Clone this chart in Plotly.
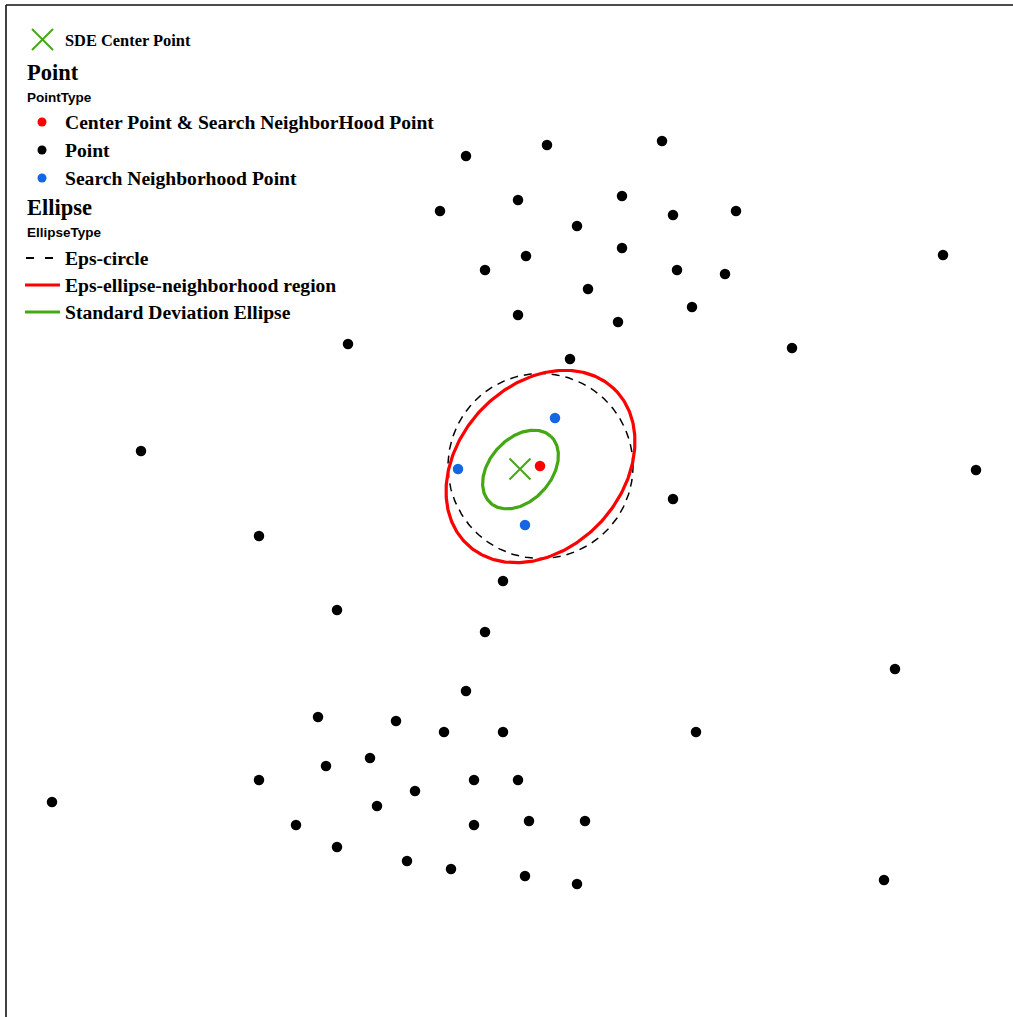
import numpy as np
import plotly.graph_objects as go

W, H = 1013, 1017

# ---------------- data ----------------
point_x = [466, 547, 662, 518, 622, 440, 673, 736, 577, 622, 526, 485, 677, 725, 588, 692, 518, 618, 348, 792, 570,
           943, 141, 976, 259, 673, 503, 337, 485, 895, 466, 696, 52, 884,
           318, 396, 444, 503, 370, 326, 259, 474, 518, 415, 377, 296, 474, 529, 585, 337, 407, 451, 525, 577]
point_y = [861, 872, 876, 817, 821, 806, 802, 806, 791, 769, 761, 747, 747, 743, 728, 710, 702, 695, 673, 669, 658,
           762, 566, 547, 481, 518, 436, 407, 385, 348, 326, 285, 215, 137,
           300, 296, 285, 285, 259, 251, 237, 237, 237, 226, 211, 192, 192, 196, 196, 170, 156, 148, 141, 133]

search_x = [555, 458, 525]
search_y = [599, 548, 492]

center_x = [540]
center_y = [551]

sde_x = [520]
sde_y = [548]

# ellipse parameters: center x, center y, semi-major, semi-minor, angle (deg)
eps_circle = dict(cx=540.5, cy=551.0, a=92.5, b=92.5, angle=0.0)
eps_ellipse = dict(cx=540.5, cy=550.5, a=107.0, b=82.0, angle=47.0)
sde_ellipse = dict(cx=520.5, cy=547.5, a=45.0, b=31.0, angle=48.0)

RED = "#FF0000"
BLUE = "#1466E3"
GREEN = "#44A814"
BLACK = "#000000"


def ellipse_xy(p, n=361):
    t = np.linspace(0, 2 * np.pi, n)
    th = np.deg2rad(p["angle"])
    x = p["cx"] + p["a"] * np.cos(t) * np.cos(th) - p["b"] * np.sin(t) * np.sin(th)
    y = p["cy"] + p["a"] * np.cos(t) * np.sin(th) + p["b"] * np.sin(t) * np.cos(th)
    return x, y


fig = go.Figure()

cx, cy = ellipse_xy(eps_circle)
fig.add_trace(go.Scatter(x=cx, y=cy, mode="lines", line=dict(color=BLACK, width=1.5, dash="8px,6px"),
                         name="Eps-circle", hoverinfo="skip"))
ex, ey = ellipse_xy(eps_ellipse)
fig.add_trace(go.Scatter(x=ex, y=ey, mode="lines", line=dict(color=RED, width=3.2),
                         name="Eps-ellipse-neighborhood region", hoverinfo="skip"))
gx, gy = ellipse_xy(sde_ellipse)
fig.add_trace(go.Scatter(x=gx, y=gy, mode="lines", line=dict(color=GREEN, width=3.2),
                         name="Standard Deviation Ellipse", hoverinfo="skip"))

fig.add_trace(go.Scatter(x=point_x, y=point_y, mode="markers",
                         marker=dict(color=BLACK, size=10.5, line=dict(width=0)), name="Point"))
fig.add_trace(go.Scatter(x=search_x, y=search_y, mode="markers",
                         marker=dict(color=BLUE, size=10.5, line=dict(width=0)), name="Search Neighborhood Point"))
fig.add_trace(go.Scatter(x=center_x, y=center_y, mode="markers",
                         marker=dict(color=RED, size=10.5, line=dict(width=0)),
                         name="Center Point & Search NeighborHood Point"))
fig.add_trace(go.Scatter(x=sde_x, y=sde_y, mode="markers",
                         marker=dict(symbol="x-thin", color=GREEN, size=21, line=dict(color=GREEN, width=2)),
                         name="SDE Center Point"))


# ---------------- manual legend (pixel layout -> paper) ----------------
def PX(v):
    return v / W


def PY(v):
    return 1 - v / H


shapes = []
annotations = []

# frame (left and top edges visible; right/bottom fall outside the window)
shapes.append(dict(type="line", xref="paper", yref="paper", x0=PX(6), x1=PX(6), y0=PY(1017), y1=PY(5),
                   line=dict(color="#111111", width=1.6)))
shapes.append(dict(type="line", xref="paper", yref="paper", x0=PX(6), x1=1.0, y0=PY(5), y1=PY(5),
                   line=dict(color="#111111", width=1.6)))

SERIF = "Liberation Serif"
SANS = "Liberation Sans"


def label(x, y, text, size, family=SERIF):
    annotations.append(dict(xref="paper", yref="paper", x=PX(x), y=PY(y), xanchor="left", yanchor="middle",
                            text="<b>" + text + "</b>", showarrow=False, borderpad=0,
                            font=dict(family=family, size=size, color=BLACK)))


# SDE center legend key
for (x0, y0, x1, y1) in [(32, 29, 53, 50), (32, 50, 53, 29)]:
    shapes.append(dict(type="line", xref="paper", yref="paper", x0=PX(x0), y0=PY(y0), x1=PX(x1), y1=PY(y1),
                       line=dict(color=GREEN, width=2)))
label(64, 40.5, "SDE Center Point", 16.4)

label(25.5, 72.5, "Point", 22.5)
label(25.5, 98, "PointType", 13.5, SANS)
for yy, col, txt in [(122, RED, "Center Point &amp; Search NeighborHood Point"),
                     (150, BLACK, "Point"),
                     (178, BLUE, "Search Neighborhood Point")]:
    shapes.append(dict(type="circle", xref="paper", yref="paper", x0=PX(37.5), x1=PX(46.5),
                       y0=PY(yy + 4.5), y1=PY(yy - 4.5), fillcolor=col, line=dict(width=0)))
    label(64, yy + 0.5, txt, 19.6)

label(25.5, 207.5, "Ellipse", 22.5)
label(25.5, 233, "EllipseType", 13.5, SANS)
shapes.append(dict(type="line", xref="paper", yref="paper", x0=PX(26), x1=PX(53), y0=PY(258), y1=PY(258),
                   line=dict(color=BLACK, width=2, dash="8px,11px")))
label(64, 258.5, "Eps-circle", 19.6)
shapes.append(dict(type="line", xref="paper", yref="paper", x0=PX(25), x1=PX(60), y0=PY(285), y1=PY(285),
                   line=dict(color=RED, width=3.2)))
label(64, 285.5, "Eps-ellipse-neighborhood region", 19.6)
shapes.append(dict(type="line", xref="paper", yref="paper", x0=PX(25), x1=PX(60), y0=PY(312), y1=PY(312),
                   line=dict(color=GREEN, width=3.2)))
label(64, 312.5, "Standard Deviation Ellipse", 19.6)

fig.update_layout(
    width=W, height=H,
    margin=dict(l=0, r=0, t=0, b=0),
    paper_bgcolor="white", plot_bgcolor="white",
    showlegend=False,
    xaxis=dict(range=[0, W], visible=False, fixedrange=True),
    yaxis=dict(range=[0, H], visible=False, fixedrange=True),
    shapes=shapes,
    annotations=annotations,
)

fig.write_html("out.html")
